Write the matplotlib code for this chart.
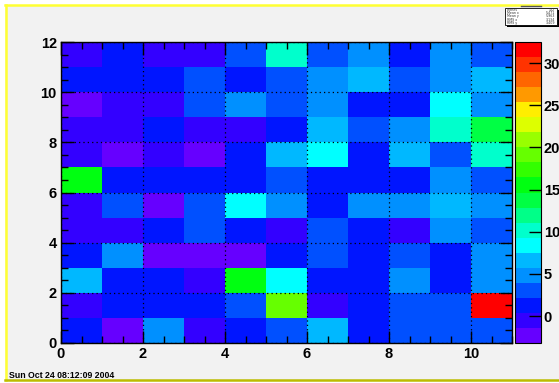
import numpy as np
import matplotlib
matplotlib.use("Agg")
import matplotlib.pyplot as plt
from matplotlib.colors import ListedColormap, BoundaryNorm
from matplotlib.patches import Rectangle
from matplotlib.lines import Line2D

# bin edges of the 2D histogram
x_edges = np.arange(0, 12)   # 0..11
y_edges = np.arange(0, 13)   # 0..12

# bin contents, row 0 = bottom (y bin 0..1), columns x bins 0..10
row00 = [1.3, -2.3, 4.8, -0.5, 1.3, 3.0, 6.6, 1.3, 3.0, 3.0, 3.0]
row01 = [-0.5, 1.3, 1.3, 1.3, 3.0, 19.1, -0.5, 1.3, 3.0, 3.0, 32.5]
row02 = [6.6, 1.3, 1.3, -0.5, 15.5, 8.4, 1.3, 1.3, 4.8, 1.3, 4.8]
row03 = [1.3, 4.8, -2.3, -2.3, -2.3, 1.3, 3.0, 1.3, 3.0, 1.3, 4.8]
row04 = [-0.5, -0.5, 1.3, 3.0, 1.3, -0.5, 3.0, 1.3, -0.5, 4.8, 3.0]
row05 = [-0.5, 3.0, -2.3, 3.0, 8.4, 4.8, 1.3, 4.8, 4.8, 6.6, 4.8]
row06 = [15.5, 1.3, 1.3, 1.3, 1.3, 3.0, 1.3, 1.3, 1.3, 4.8, 3.0]
row07 = [-0.5, -2.3, -0.5, -2.3, 1.3, 6.6, 8.4, 1.3, 6.6, 3.0, 10.2]
row08 = [-0.5, -0.5, 1.3, -0.5, -0.5, 1.3, 6.6, 3.0, 4.8, 10.2, 13.8]
row09 = [-3.2, -0.5, -0.5, 3.0, 4.8, 3.0, 4.8, 1.3, 1.3, 8.4, 4.8]
row10 = [1.3, 1.3, 1.3, 3.0, 1.3, 3.0, 4.8, 6.6, 3.0, 4.8, 6.6]
row11 = [-0.5, 1.3, -0.5, -0.5, 3.0, 10.2, 3.0, 4.8, 1.3, 4.8, 3.0]
z = np.array([row00, row01, row02, row03, row04, row05,
              row06, row07, row08, row09, row10, row11])

z_min, z_max = -3.2, 32.5
cbar_ticks = [0, 5, 10, 15, 20, 25, 30]
x_ticks = [0, 2, 4, 6, 8, 10]
y_ticks = [0, 2, 4, 6, 8, 10, 12]
date_text = "Sun Oct 24 08:12:09 2004"

# 20-level palette (bottom -> top)
palette = ['#6600ff', '#3300ff', '#0015ff', '#0050ff', '#0090ff',
           '#00b8ff', '#00ffff', '#00ffcc', '#00ff88', '#00ff44',
           '#00ff11', '#33ff00', '#66ff00', '#99ff00', '#ddff00',
           '#ffee00', '#ff9900', '#ff6600', '#ff3300', '#ff0000']
cmap = ListedColormap(palette)
norm = BoundaryNorm(np.linspace(z_min, z_max, 21), 20)

W, H = 559, 383
fig = plt.figure(figsize=(W / 100, H / 100), dpi=100, facecolor='white')

def fx(px):
    return px / W

def fy(py):
    return 1 - py / H

# canvas background + ROOT style border
fig.add_artist(Rectangle((fx(5), fy(380)), fx(560) - fx(5), fy(5) - fy(380),
                         transform=fig.transFigure, facecolor='#f2f2f2',
                         edgecolor='none', zorder=-10))
fig.add_artist(Line2D([fx(5), 1], [fy(5), fy(5)], color='#ffff33', lw=1.8))
fig.add_artist(Line2D([fx(5.5), fx(5.5)], [fy(5), fy(380)], color='#ffff33', lw=1.8))
fig.add_artist(Line2D([fx(5), 1], [fy(380), fy(380)], color='#bcbc00', lw=1.8))

ax = fig.add_axes([fx(61), fy(343), fx(512) - fx(61), fy(42) - fy(343)])
mesh = ax.pcolormesh(x_edges, y_edges, z, cmap=cmap, norm=norm,
                     edgecolors='none', linewidth=0)
ax.set_xlim(0, 11)
ax.set_ylim(0, 12)
ax.set_xticks(x_ticks)
ax.set_yticks(y_ticks)
ax.set_xticks(np.arange(0, 11.01, 0.5), minor=True)
ax.set_yticks(np.arange(0, 12.01, 0.5), minor=True)
ax.tick_params(which='both', direction='in', top=True, right=True,
               color='black', width=1)
ax.tick_params(which='major', length=9, labelsize=10.5, pad=3)
ax.tick_params(which='minor', length=5)
for lab in ax.get_xticklabels() + ax.get_yticklabels():
    lab.set_fontweight('bold')
    lab.set_fontfamily('Liberation Sans')
ax.grid(True, which='major', color='black', linestyle=(0, (1, 2.5)), linewidth=0.9)
for sp in ax.spines.values():
    sp.set_linewidth(1)

# palette axis
cax = fig.add_axes([fx(515), fy(343), fx(541) - fx(515), fy(42) - fy(343)])
cb = fig.colorbar(mesh, cax=cax)
cb.set_ticks(cbar_ticks)
cb.ax.minorticks_off()
cb.ax.tick_params(direction='in', length=9, width=1, labelsize=10.5, pad=2)
for lab in cb.ax.get_yticklabels():
    lab.set_fontweight('bold')
    lab.set_fontfamily('Liberation Sans')
cb.outline.set_linewidth(0.8)

# stats box
fig.add_artist(Rectangle((fx(506.5), fy(26.5)), fx(52), fy(0) - fy(17),
                         transform=fig.transFigure, facecolor='black',
                         edgecolor='none'))
fig.add_artist(Rectangle((fx(505), fy(25)), fx(52), fy(0) - fy(17),
                         transform=fig.transFigure, facecolor='white',
                         edgecolor='black', lw=0.6))
fig.add_artist(Line2D([fx(521), fx(541)], [fy(5.5), fy(5.5)], color='#555555', lw=1))
stat_names = ['Entries', 'Mean x', 'Mean y', 'RMS x', 'RMS y']
stat_vals = ['132', '5.471', '5.963', '3.134', '3.409']
for i, (nm, vl) in enumerate(zip(stat_names, stat_vals)):
    yy = fy(10 + i * 3.2)
    fig.text(fx(507), yy, nm, fontsize=2.3, va='center', ha='left', color='#333333')
    fig.text(fx(555), yy, vl, fontsize=2.3, va='center', ha='right', color='#333333')

fig.text(fx(9), fy(375), date_text, fontsize=6.3, fontweight='bold',
         family='Liberation Sans', va='center', ha='left')

fig.savefig('out.png', dpi=100, facecolor=fig.get_facecolor())
